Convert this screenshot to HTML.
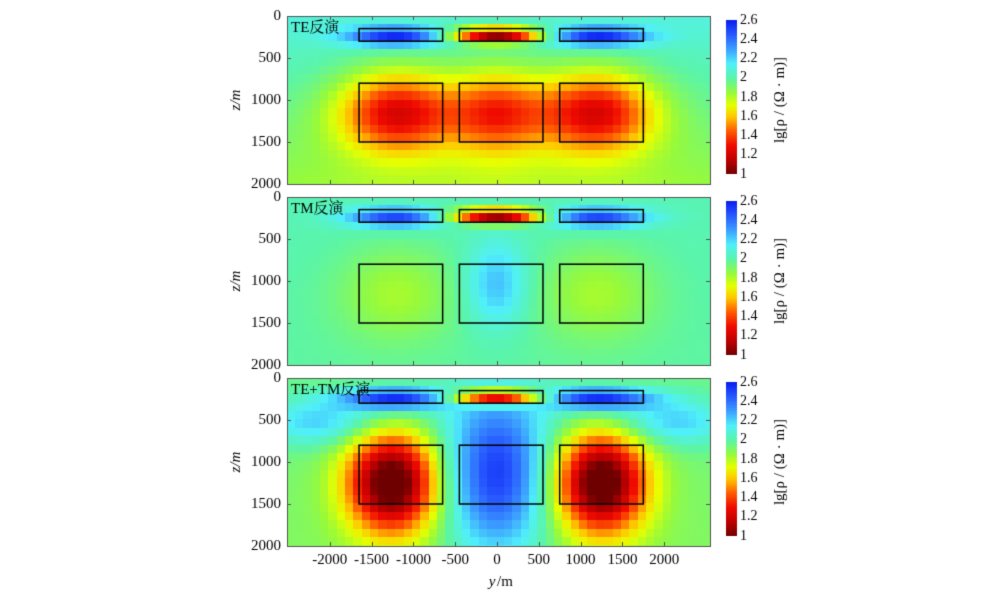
<!DOCTYPE html><html><head><meta charset="utf-8"><style>
body{margin:0;background:#fff;width:1000px;height:593px;overflow:hidden;font-family:"Liberation Serif","Noto Serif CJK SC",serif}
canvas{position:absolute;left:0;top:0}
</style></head><body>
<canvas id="c" width="1000" height="593"></canvas>
<script>
const c=document.getElementById('c'),g=c.getContext('2d');
const stops=[[1,[110,0,0]],[1.15,[190,0,0]],[1.3,[240,10,0]],[1.45,[255,90,0]],[1.6,[255,200,0]],[1.72,[230,255,0]],[1.85,[150,250,60]],[2.0,[90,245,170]],[2.15,[80,240,250]],[2.3,[60,160,255]],[2.45,[40,90,255]],[2.6,[10,30,240]]];
function col(v){v=Math.max(1,Math.min(2.6,v));for(let i=1;i<stops.length;i++){if(v<=stops[i][0]){const a=stops[i-1],b=stops[i],t=(v-a[0])/(b[0]-a[0]);return 'rgb('+a[1].map((x,k)=>Math.round(x+(b[1][k]-x)*t)).join(',')+')';}}return 'rgb(10,30,240)';}
function G(x,z,x0,z0,sx,sz,a){return a*Math.exp(-((x-x0)**2/(2*sx*sx)+(z-z0)**2/(2*sz*sz)));}
const X0=287,X1=710;
function px(y){return 497+y*0.0836;}
const f=[
(x,z)=>{let v=2.05-0.25*z/2000+0.05*Math.abs(x)/2500;
for(const s of[-1,1]){v+=G(x,z,s*1200,1150,480,330,-0.7);v+=G(x,z,s*1200,250,420,80,0.55);}
v+=G(x,z,0,1150,420,330,-0.55);v+=G(x,z,0,230,380,60,-1.0);return v;},
(x,z)=>{let v=2.02-0.03*z/2000;
for(const s of[-1,1]){v+=G(x,z,s*1200,1150,500,400,-0.18);v+=G(x,z,s*1200,250,420,80,0.5);}
v+=G(x,z,0,1050,250,350,0.25);v+=G(x,z,0,230,380,60,-1.0);return v;},
(x,z)=>{let v=1.95-0.05*z/2000;
for(const s of[-1,1]){v+=G(x,z,s*1250,1250,380,420,-1.05);v+=G(x,z,s*1200,250,450,90,0.6);v+=G(x,z,s*2200,550,450,200,0.22);v+=G(x,z,s*1500,450,600,200,0.12);}
v+=G(x,z,0,1150,450,700,0.6);v+=G(x,z,0,230,380,60,-1.0);return v;}];
const tops=[16,197,378],titles=["TE反演","TM反演","TE+TM反演"];
g.font='15px "Liberation Serif",serif';
for(let p=0;p<3;p++){const T=tops[p],B=T+168;
g.save();g.beginPath();g.rect(X0,T,X1-X0,168);g.clip();
for(let yy=T;yy<B;yy+=8.4)for(let xx=X0;xx<X1;xx+=8.36){const x=(xx+4-497)/0.0836,z=(yy+4-T)/0.084;g.fillStyle=col(f[p](x,z));g.fillRect(Math.floor(xx),Math.floor(yy),9,9);}
g.restore();
g.strokeStyle='#555';g.lineWidth=1;g.strokeRect(X0+.5,T+.5,X1-X0,168);
g.strokeStyle='#000';g.lineWidth=1.5;
for(const [a,b] of[[-1650,-650],[-450,550],[750,1750]]){g.strokeRect(px(a),T+150*0.084,px(b)-px(a),150*0.084);g.strokeRect(px(a),T+800*0.084,px(b)-px(a),700*0.084);}
g.strokeStyle='#555';g.lineWidth=1;
for(let k=-2000;k<=2000;k+=500){const xx=Math.round(px(k))+.5;g.beginPath();g.moveTo(xx,T);g.lineTo(xx,T+4);g.moveTo(xx,B);g.lineTo(xx,B-4);g.stroke();}
g.fillStyle='#000';g.font='15px "Liberation Serif",serif';g.textAlign='right';g.textBaseline='middle';
for(let k=0;k<=2000;k+=500){const yy=T+k*0.084;g.fillText(k,281,yy);g.beginPath();g.moveTo(X0,Math.round(yy)+.5);g.lineTo(X0+4,Math.round(yy)+.5);g.moveTo(X1,Math.round(yy)+.5);g.lineTo(X1-4,Math.round(yy)+.5);g.stroke();}
g.textAlign='left';g.font='15px "Liberation Serif","Noto Serif CJK SC",serif';g.fillText(titles[p],291,T+12);
g.save();g.translate(236,T+84);g.rotate(-Math.PI/2);g.textAlign='center';g.font='italic 15px "Liberation Serif",serif';g.fillText('z/m',0,0);g.restore();
const ct=T+4,cb=T+158;for(let yy=ct;yy<cb;yy++){g.fillStyle=col(2.6-(yy-ct)/(cb-ct)*1.6);g.fillRect(726,yy,11,1);}
g.font='14px "Liberation Serif",serif';g.textAlign='left';g.fillStyle='#000';
for(let v=1;v<=2.61;v+=0.2){const yy=cb-(v-1)/1.6*(cb-ct);g.fillText(Math.abs(v-Math.round(v))<.01?String(Math.round(v)):v.toFixed(1),740,yy);}
g.save();g.translate(780,T+84);g.rotate(-Math.PI/2);g.textAlign='center';g.font='15px "Liberation Serif",serif';g.fillText('lg[ρ / (Ω · m)]',0,0);g.restore();
}
g.textAlign='center';g.textBaseline='middle';g.font='15px "Liberation Serif",serif';
for(let k=-2000;k<=2000;k+=500)g.fillText(k,px(k),560);
g.font='italic 15px "Liberation Serif",serif';g.fillText('y',492,582);g.font='15px "Liberation Serif",serif';g.fillText('/m',505,582);
</script></body></html>
